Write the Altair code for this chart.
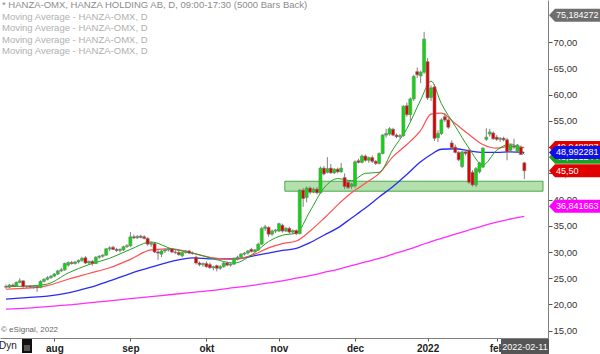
import altair as alt
import pandas as pd

# ---------------- data (trading-day index: 0 = 2021-07-13 ... 150 = 2022-02-11)
opens = [23.4, 23.3, 23.7, 23.5, 24.2, 24.5, 23.4, 23.5, 23.3, 23.4,
         23.2, 24.4, 24.8, 25.1, 25.4, 25.8, 26.4, 26.6, 27.5, 28.0,
         27.8, 28.1, 28.4, 28.9, 27.9, 28.2, 27.8, 29.0, 29.2, 29.4,
         30.6, 30.9, 30.5, 30.3, 30.4, 31.0, 31.2, 32.9, 32.7, 33.0,
         32.9, 32.6, 31.5, 31.6, 30.0, 29.6, 30.2, 30.4, 30.6, 30.0,
         29.9, 29.3, 29.9, 30.2, 29.8, 29.0, 27.9, 27.6, 27.8, 27.6,
         27.0, 27.4, 26.9, 27.2, 27.9, 27.5, 27.7, 28.8, 29.0, 29.6,
         29.8, 30.5, 30.1, 30.4, 31.5, 34.5, 34.7, 33.4, 34.0, 34.0,
         35.1, 34.0, 34.5, 33.8, 34.1, 33.5, 41.8, 40.4, 42.2, 41.4,
         42.0, 41.3, 46.0, 45.2, 46.0, 45.1, 45.8, 45.3, 44.2, 43.3,
         42.5, 42.6, 47.4, 47.1, 48.3, 47.5, 48.0, 47.3, 46.9, 48.8,
         52.3, 52.5, 53.4, 52.3, 52.0, 52.2, 57.9, 56.2, 59.2, 64.4,
         63.6, 64.3, 66.3, 59.5, 61.5, 51.8, 52.6, 55.8, 55.2, 50.8,
         50.0, 49.0, 46.3, 49.1, 49.4, 45.2, 42.8, 45.3, 46.2, 51.5,
         52.5, 52.7, 51.9, 51.5, 51.7, 51.4, 49.4, 50.2, 49.2, 50.0,
         47.0]
highs = [23.8, 23.9, 24.0, 24.4, 25.0, 24.6, 23.7, 23.7, 23.6, 23.5,
         24.6, 25.0, 25.4, 25.6, 26.0, 26.6, 27.0, 28.0, 28.2, 28.3,
         28.3, 28.6, 29.1, 29.2, 28.4, 28.5, 29.2, 29.4, 29.6, 30.8,
         31.1, 31.2, 30.8, 30.7, 31.2, 31.5, 33.8, 33.3, 33.2, 33.3,
         33.2, 32.8, 32.0, 31.8, 30.4, 30.4, 30.7, 30.8, 30.7, 30.4,
         30.2, 30.0, 30.4, 30.4, 30.1, 29.3, 28.2, 28.0, 28.2, 28.0,
         27.4, 27.6, 27.5, 28.1, 28.2, 27.9, 29.0, 29.3, 29.8, 30.0,
         30.4, 30.8, 30.6, 31.8, 34.8, 35.2, 34.9, 34.3, 34.4, 35.6,
         35.4, 34.8, 34.8, 34.3, 34.3, 42.0, 42.2, 42.5, 42.5, 42.3,
         42.4, 46.3, 46.4, 48.1, 46.8, 46.0, 46.1, 47.0, 45.0, 43.6,
         43.2, 47.5, 47.8, 48.6, 48.6, 48.2, 48.4, 47.5, 49.0, 52.5,
         53.5, 53.8, 53.7, 52.6, 52.5, 58.0, 58.5, 59.5, 63.8, 65.2,
         64.6, 72.0, 67.0, 61.8, 62.0, 53.2, 55.5, 56.5, 55.5, 51.3,
         50.5, 49.2, 49.3, 49.5, 49.8, 45.6, 46.2, 47.2, 50.0, 53.6,
         53.5, 53.0, 52.3, 51.9, 52.0, 51.8, 50.6, 51.6, 50.6, 50.3,
         47.2]
lows = [23.0, 23.1, 23.3, 23.4, 24.0, 23.2, 23.1, 23.2, 23.0, 22.4,
        23.1, 24.2, 24.6, 24.9, 25.2, 25.6, 26.2, 26.4, 27.2, 27.6,
        27.6, 27.8, 28.1, 27.7, 27.6, 27.4, 27.7, 28.7, 28.9, 29.3,
        30.2, 30.4, 30.0, 29.9, 30.2, 30.8, 31.0, 32.5, 32.5, 32.6,
        32.4, 31.2, 31.0, 29.8, 28.5, 29.0, 29.8, 30.1, 29.8, 29.6,
        29.3, 29.0, 29.7, 29.6, 29.5, 27.6, 27.3, 27.2, 27.0, 26.8,
        26.5, 26.3, 26.6, 27.0, 27.3, 27.2, 27.5, 28.4, 28.8, 29.3,
        29.5, 29.9, 29.9, 30.2, 31.4, 34.0, 32.9, 33.1, 33.6, 33.8,
        33.7, 33.8, 33.5, 33.4, 33.2, 33.4, 38.6, 39.5, 41.0, 41.2,
        41.0, 41.1, 44.6, 45.0, 44.9, 44.9, 45.0, 45.1, 42.0, 42.0,
        42.0, 42.2, 46.9, 46.9, 47.2, 47.0, 47.0, 46.6, 46.7, 48.6,
        51.8, 52.2, 52.1, 51.7, 51.6, 52.0, 55.8, 55.0, 58.8, 63.2,
        62.2, 64.0, 59.0, 58.8, 51.2, 51.0, 52.3, 54.8, 53.5, 49.6,
        48.8, 47.3, 46.0, 48.4, 43.0, 42.5, 42.4, 45.0, 46.0, 51.2,
        52.0, 51.4, 51.2, 51.0, 51.1, 47.5, 49.0, 49.6, 48.9, 48.5,
        43.9]
closes = [23.3, 23.7, 23.5, 24.2, 24.5, 23.4, 23.5, 23.3, 23.4, 23.2,
          24.4, 24.8, 25.1, 25.4, 25.8, 26.4, 26.6, 27.8, 28.0, 27.8,
          28.1, 28.4, 28.8, 27.9, 28.2, 27.8, 29.0, 29.2, 29.4, 30.6,
          30.8, 30.5, 30.3, 30.5, 31.0, 31.2, 32.9, 32.7, 33.0, 32.8,
          32.6, 31.5, 31.7, 30.0, 29.8, 30.2, 30.4, 30.6, 30.0, 29.9,
          29.5, 29.9, 30.2, 29.8, 29.7, 27.9, 27.6, 27.8, 27.2, 27.0,
          27.2, 26.9, 27.2, 27.9, 27.5, 27.7, 28.8, 29.0, 29.6, 29.8,
          30.2, 30.1, 30.4, 31.5, 34.5, 34.8, 33.4, 34.0, 34.2, 35.4,
          34.0, 34.5, 33.8, 34.1, 33.5, 41.8, 40.2, 42.2, 41.4, 42.0,
          41.3, 46.0, 44.9, 45.9, 45.1, 45.8, 45.3, 46.0, 42.5, 42.3,
          43.0, 47.2, 47.1, 48.3, 47.5, 48.0, 47.3, 46.9, 48.8, 52.3,
          52.6, 53.5, 52.3, 52.0, 52.2, 57.8, 56.2, 59.2, 63.5, 63.8,
          64.3, 70.6, 59.4, 61.3, 51.7, 52.6, 55.2, 55.2, 53.8, 49.9,
          49.0, 47.6, 49.1, 48.8, 43.3, 42.8, 45.9, 47.0, 49.8, 51.9,
          52.9, 51.6, 51.5, 51.7, 51.4, 49.1, 50.4, 50.0, 50.4, 48.6,
          45.5]

# moving averages read at sample bars
ma_idx = [0, 6, 12, 18, 24, 30, 36, 42, 48, 54, 60, 66, 72, 76, 80, 84, 88, 92, 96, 100,
          104, 108, 112, 116, 120, 123, 126, 130, 134, 138, 142, 146, 150]
ma_green = [23.4, 23.5, 23.9, 26.0, 27.6, 28.8, 30.5, 31.9, 30.6, 29.8, 28.7, 27.9, 29.9,
            32.0, 33.2, 33.6, 37.8, 42.2, 44.0, 43.6, 45.0, 45.2, 49.6, 53.5, 59.0, 62.6,
            58.3, 54.0, 49.8, 46.6, 49.4, 50.6, 48.6]
ma_red = [22.9, 23.1, 23.6, 24.8, 25.9, 27.0, 28.6, 30.4, 30.6, 29.8, 28.9, 28.6, 29.6,
          30.8, 31.6, 32.1, 34.0, 36.4, 39.0, 41.3, 43.1, 45.0, 48.2, 50.5, 53.2, 56.3,
          56.5, 54.5, 52.4, 50.5, 49.8, 50.2, 49.9]
ma_blue = [21.0, 21.3, 21.6, 22.2, 23.2, 24.5, 25.9, 27.1, 28.2, 28.9, 28.7, 28.7, 29.3,
           29.8, 30.3, 30.7, 31.8, 33.2, 34.6, 36.5, 38.4, 40.5, 42.5, 44.8, 47.2, 48.6,
           49.6, 49.7, 49.3, 49.0, 49.0, 49.1, 49.0]
ma_magenta = [19.1, 19.3, 19.6, 19.9, 20.3, 20.7, 21.1, 21.5, 21.9, 22.3, 22.7, 23.2, 23.7,
              24.1, 24.5, 25.0, 25.5, 26.1, 26.7, 27.4, 28.1, 28.8, 29.6, 30.4, 31.3, 32.0,
              32.6, 33.4, 34.2, 35.0, 35.7, 36.3, 36.8]

month_idx = [14, 36, 58, 79, 101, 122, 142]
month_lbl = ["aug", "sep", "okt", "nov", "dec", "2022", "feb"]
y_ticks = [15, 20, 25, 30, 35, 40, 45, 50, 55, 60, 65, 70]

zone_start, zone_end = 80.7, 155.4
zone_lo, zone_hi = 41.6, 43.5

legend_lines = ["* HANZA-OMX, HANZA HOLDING AB, D, 09:00-17:30 (5000 Bars Back)",
                "Moving Average - HANZA-OMX, D", "Moving Average - HANZA-OMX, D",
                "Moving Average - HANZA-OMX, D", "Moving Average - HANZA-OMX, D"]

box_vals = [49.95, 48.10, 48.992281, 45.50, 36.841663, 75.184272]
box_text = ["49,948887", "48,101244", "48,992281", "45,50", "36,841663", "75,184272"]
box_cols = ["#e00000", "#1f9f1f", "#1010e6", "#e00000", "#ff00ff", "#6e6e6e"]
box_dy = [0, 0, 0, 0, -10, 0]

last_date = "2022-02-11"

# ---------------- chart
FONT = "Liberation Sans"
XS = alt.Scale(domain=[-0.28, 155.4], nice=False, zero=False)
YS = alt.Scale(domain=[13.6, 78.07], nice=False, zero=False)

n = len(closes)
bars = pd.DataFrame({"idx": list(range(n)), "open": opens, "high": highs,
                     "low": lows, "close": closes})
bars["dir"] = ["up" if c >= o else "down" for o, c in zip(opens, closes)]

lbl_expr = " : ".join(f"datum.value == {i} ? '{l}'" for i, l in zip(month_idx, month_lbl)) + " : ''"

X_AXIS = alt.Axis(values=month_idx, labelExpr=lbl_expr, title=None, grid=False,
                  domainColor="#808080", tickColor="#555555", tickSize=3,
                  labelFont=FONT, labelFontSize=10, labelFontWeight="bold",
                  labelColor="#222222", labelPadding=2, labelFlush=False)
Y_AXIS = alt.Axis(orient="right", values=y_ticks,
                  labelExpr="replace(format(datum.value, '.2f'), '.', ',')",
                  title=None, grid=False, domainColor="#808080", tickColor="#555555",
                  tickSize=4, labelFont=FONT, labelFontSize=9.5, labelColor="#333333",
                  labelPadding=1)


def X(field):
    return alt.X(field, scale=XS, axis=X_AXIS)


def Y(field):
    return alt.Y(field, scale=YS, axis=Y_AXIS)


zone_df = pd.DataFrame({"x0": [zone_start], "x1": [zone_end], "lo": [zone_lo], "hi": [zone_hi]})
zone = alt.Chart(zone_df).mark_rect(fill="#b4e0ae", stroke="#48a848", strokeWidth=1).encode(
    x=X("x0:Q"), x2="x1:Q", y=Y("lo:Q"), y2="hi:Q")

ma_df = pd.DataFrame({"idx": ma_idx, "g": ma_green, "r": ma_red, "b": ma_blue, "m": ma_magenta})
ma_layers = []
for col, colr, w in [("m", "#ff2cff", 1.3), ("b", "#2a2af5", 1.3), ("r", "#ff5050", 1.2), ("g", "#22a022", 1.0)]:
    ma_layers.append(alt.Chart(ma_df).mark_line(color=colr, strokeWidth=w, interpolate="monotone").encode(
        x=X("idx:Q"), y=Y(f"{col}:Q")))

wicks = alt.Chart(bars).mark_rule(color="#808080", strokeWidth=1).encode(
    x=X("idx:Q"), y=Y("low:Q"), y2="high:Q")

bodies = alt.Chart(bars).mark_bar(size=3, stroke="#7a7a7a", strokeWidth=0.6).encode(
    x=X("idx:Q"), y=Y("open:Q"), y2="close:Q",
    fill=alt.Color("dir:N", scale=alt.Scale(domain=["up", "down"], range=["#00e000", "#e00000"]),
                   legend=None))

layers = [zone] + ma_layers + [wicks, bodies]

# price boxes on right scale
box_shape = "M-1,0 L-0.765,-0.255 L1,-0.255 L1,0.255 L-0.765,0.255 Z"
for v, t, c, dy in zip(box_vals, box_text, box_cols, box_dy):
    d = pd.DataFrame({"v": [v], "t": [t]})
    layers.append(alt.Chart(d).mark_point(shape=box_shape, filled=True, size=2601, opacity=1,
                                          fill=c, strokeWidth=0, yOffset=dy).encode(
        x=alt.value(574.5), y=Y("v:Q")))
    layers.append(alt.Chart(d).mark_text(align="left", baseline="middle", font=FONT, fontSize=9,
                                         color="white", yOffset=dy).encode(
        x=alt.value(556), y=Y("v:Q"), text="t:N"))

# legend text lines
for i, line in enumerate(legend_lines):
    d = pd.DataFrame({"t": [line]})
    layers.append(alt.Chart(d).mark_text(align="left", baseline="middle", font=FONT, fontSize=9.5,
                                         color="#8c8c8c" if i == 0 else "#b0b0b0").encode(
        x=alt.value(2), y=alt.value(5 + 11.5 * i), text="t:N"))

# copyright
layers.append(alt.Chart(pd.DataFrame({"t": ["\u00a9 eSignal, 2022"]})).mark_text(
    align="left", baseline="middle", font=FONT, fontSize=8, color="#666666").encode(
    x=alt.value(1), y=alt.value(330), text="t:N"))

# bottom-left "Dyn" and icon
layers.append(alt.Chart(pd.DataFrame({"t": ["Dyn"]})).mark_text(
    align="left", baseline="middle", font=FONT, fontSize=10, color="#222222").encode(
    x=alt.value(-1), y=alt.value(346), text="t:N"))
layers.append(alt.Chart(pd.DataFrame({"t": ["i"]})).mark_rect(fill="#111111").encode(
    x=alt.value(22), x2=alt.value(32), y=alt.value(339), y2=alt.value(353)))
layers.append(alt.Chart(pd.DataFrame({"t": ["i"]})).mark_rect(fill="#555555").encode(
    x=alt.value(24), x2=alt.value(30), y=alt.value(345), y2=alt.value(351)))

# date box
layers.append(alt.Chart(pd.DataFrame({"t": [last_date]})).mark_rect(fill="#555555").encode(
    x=alt.value(501), x2=alt.value(549), y=alt.value(339), y2=alt.value(354)))
layers.append(alt.Chart(pd.DataFrame({"t": [last_date]})).mark_text(
    align="center", baseline="middle", font=FONT, fontSize=9, color="white").encode(
    x=alt.value(525), y=alt.value(347), text="t:N"))

chart = alt.layer(*layers).properties(
    width=548, height=338,
    padding={"left": 0, "top": 0, "right": 52, "bottom": 16},
    autosize=alt.AutoSizeParams(type="none"),
    background="white",
).configure_view(stroke=None)

chart.save("out.html", embed_options={"renderer": "svg", "actions": False})
